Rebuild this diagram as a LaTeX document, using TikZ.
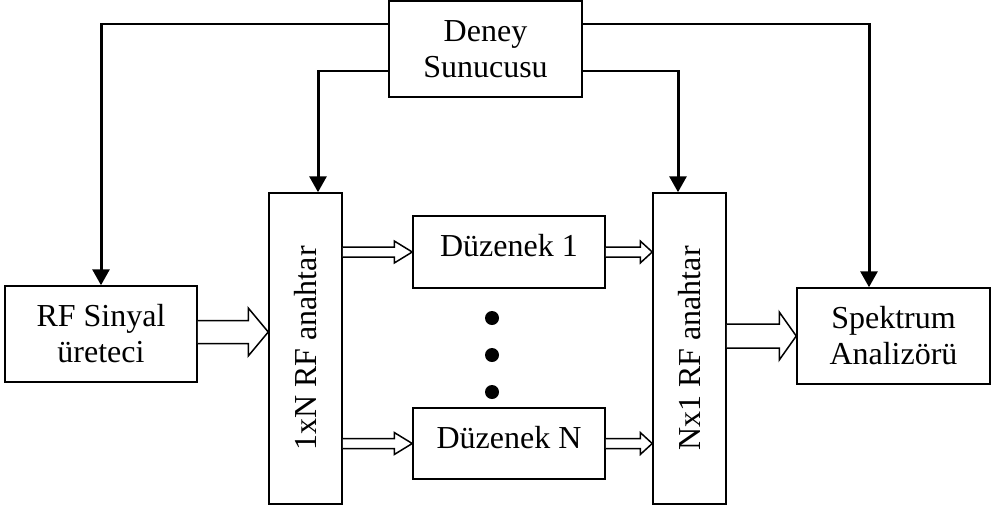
\documentclass[tikz,border=0pt]{standalone}
\usepackage{fontspec}
\setmainfont{Liberation Serif}
\usepackage{graphicx}
\usetikzlibrary{arrows.meta,calc}
\tikzset{
  blk/.style={draw,line width=1.5pt,rectangle,inner sep=0pt,align=center,
    font=\fontsize{32pt}{36pt}\selectfont},
  upbox/.style={blk,text depth=13pt},
  thinl/.style={line width=1.5pt},
  ctl/.style={line width=3pt,-{Triangle[length=16pt,width=17pt]}},
  holl/.style={draw,line width=1.5pt,line join=miter,fill=white},
  dotn/.style={circle,fill=black,draw=none,minimum size=14pt,inner sep=0pt}
}
\newcommand{\hollowarr}[5]{%
  \draw[holl] let \p1=(#1), \p2=(#2) in
    (\x1,\y2+#3) -- (\x2-#5,\y2+#3) -- (\x2-#5,\y2+#4) -- (\x2,\y2)
    -- (\x2-#5,\y2-#4) -- (\x2-#5,\y2-#3) -- (\x1,\y2-#3);}
\begin{document}
\begin{tikzpicture}[x=1pt,y=-1pt]
\useasboundingbox (0,0) rectangle (991,512);
\node[blk,minimum width=193pt,minimum height=96pt] (srv) at (485.5,49) {Deney\\Sunucusu};
\node[blk,minimum width=192pt,minimum height=96pt] (rf) at (101,334) {RF Sinyal\\üreteci};
\node[blk,minimum width=73pt,minimum height=311pt] (sw1) at (305.5,348.5) {\rotatebox{90}{1xN RF anahtar}};
\node[upbox,minimum width=192pt,minimum height=72pt] (d1) at (509,252) {Düzenek 1};
\node[upbox,minimum width=192pt,minimum height=71pt] (dN) at (509,443.5) {Düzenek N};
\node[blk,minimum width=73pt,minimum height=311pt] (sw2) at (689.5,348.5) {\rotatebox{90}{Nx1 RF anahtar}};
\node[blk,minimum width=193pt,minimum height=96pt] (sa) at (893.5,336) {Spektrum\\Analizörü};
\node[dotn] (o1) at (492,318) {};
\node[dotn] (o2) at (492,355) {};
\node[dotn] (o3) at (492,392) {};
% control lines
\coordinate (sA) at ([yshift=25pt]srv.west);
\coordinate (sB) at ([yshift=-22pt]srv.west);
\coordinate (sC) at ([yshift=25pt]srv.east);
\coordinate (sD) at ([yshift=-22pt]srv.east);
\coordinate (t1) at ([xshift=12.5pt]sw1.north);
\coordinate (t2) at ([xshift=-11.5pt]sw2.north);
\coordinate (t3) at ([xshift=-24.5pt]sa.north);
\coordinate (k1) at (rf.north |- sA);
\coordinate (k2) at (t1 |- sB);
\coordinate (k3) at (t2 |- sD);
\coordinate (k4) at (t3 |- sC);
\draw[thinl] (sA) -- (k1);
\draw[thinl] (sB) -- (k2);
\draw[thinl] (sD) -- (k3);
\draw[thinl] (sC) -- (k4);
\draw[ctl] ([yshift=0.75pt]k1) -- (rf.north);
\draw[ctl] ([yshift=0.75pt]k2) -- (t1);
\draw[ctl] ([yshift=0.75pt]k3) -- (t2);
\draw[ctl] ([yshift=0.75pt]k4) -- (t3);
% hollow arrows
\coordinate (e1) at ($(sw1.west |- rf.east)+(0,-2)$);
\coordinate (e4) at (sw2.west |- d1.east);
\coordinate (e5) at (sw2.west |- dN.east);
\hollowarr{rf.east}{e1}{11.5}{24}{20}
\hollowarr{sw1.east}{d1.west}{5}{11}{18}
\hollowarr{sw1.east}{dN.west}{5}{11}{18}
\hollowarr{d1.east}{e4}{5}{11}{12}
\hollowarr{dN.east}{e5}{5}{11}{12}
\hollowarr{sw2.east}{sa.west}{12}{24}{17}
\end{tikzpicture}
\end{document}
